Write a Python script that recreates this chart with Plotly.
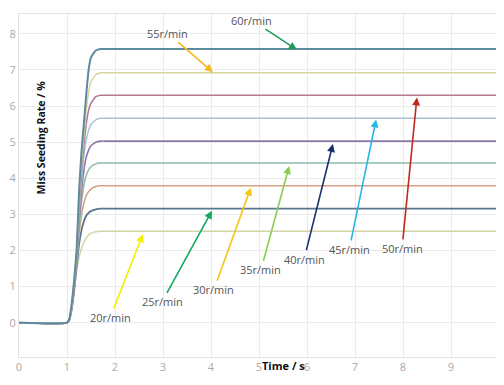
import plotly.graph_objects as go

# ---- data ----
time_s = [0, 1.0, 1.05, 1.1, 1.15, 1.2, 1.25, 1.3, 1.35, 1.4, 1.45, 1.5, 1.6, 1.7, 1.8, 2.0, 10]

rate_20 = [0, 0, 0.08, 0.35, 0.85, 1.45, 1.8, 2.05, 2.22, 2.35, 2.43, 2.48, 2.52, 2.53, 2.53, 2.53, 2.53]
rate_25 = [0, 0, 0.08, 0.4, 0.9, 1.55, 2.15, 2.55, 2.8, 2.96, 3.04, 3.09, 3.14, 3.16, 3.16, 3.16, 3.16]
rate_30 = [0, 0, 0.1, 0.4, 0.95, 1.65, 2.4, 2.95, 3.3, 3.52, 3.63, 3.7, 3.77, 3.79, 3.79, 3.79, 3.79]
rate_35 = [0, 0, 0.1, 0.45, 1.0, 1.7, 2.6, 3.3, 3.78, 4.08, 4.23, 4.32, 4.4, 4.42, 4.42, 4.42, 4.42]
rate_40 = [0, 0, 0.1, 0.45, 1.0, 1.8, 2.8, 3.6, 4.2, 4.58, 4.78, 4.9, 5.0, 5.03, 5.03, 5.03, 5.03]
rate_45 = [0, 0, 0.1, 0.5, 1.05, 1.85, 3.0, 3.9, 4.6, 5.05, 5.33, 5.49, 5.62, 5.66, 5.66, 5.66, 5.66]
rate_50 = [0, 0, 0.1, 0.5, 1.1, 1.9, 3.2, 4.2, 4.9, 5.5, 5.88, 6.08, 6.26, 6.3, 6.3, 6.3, 6.3]
rate_55 = [0, 0, 0.1, 0.5, 1.15, 1.95, 3.4, 4.4, 5.2, 5.9, 6.38, 6.68, 6.87, 6.92, 6.92, 6.92, 6.92]
rate_60 = [0, 0, 0.1, 0.55, 1.2, 2.0, 3.6, 4.7, 5.5, 6.3, 7.0, 7.35, 7.54, 7.58, 7.58, 7.58, 7.58]

series_names = ["20r/min", "25r/min", "30r/min", "35r/min", "40r/min",
                "45r/min", "50r/min", "55r/min", "60r/min"]
series_values = [rate_20, rate_25, rate_30, rate_35, rate_40,
                 rate_45, rate_50, rate_55, rate_60]
line_colors = ["#d4d4a8", "#56768e", "#d4a282", "#8cbcaa", "#8a78aa",
               "#a9c2d2", "#b47a92", "#d6d69a", "#5c8a9e"]
line_widths = [1.5, 1.8, 1.5, 1.5, 1.6, 1.5, 1.6, 1.5, 2.0]

# label text position (x, y) and arrow head (x, y)
label_pos = [(1.90, 0.14), (2.98, 0.58), (4.06, 0.91), (5.04, 1.46), (5.94, 1.76),
             (6.88, 2.03), (7.98, 2.06), (3.10, 8.02), (4.85, 8.38)]
arrow_head = [(2.58, 2.45), (4.02, 3.10), (4.83, 3.74), (5.63, 4.34), (6.54, 4.95),
              (7.44, 5.63), (8.29, 6.24), (4.04, 6.94), (5.79, 7.56)]
arrow_colors = ["#f2f000", "#12a862", "#f5c518", "#8ccf50", "#1b2f6b",
                "#29b5e8", "#c0291e", "#f5b820", "#1e9e5a"]

x_ticks = list(range(0, 11))
y_ticks = list(range(0, 9))

fig = go.Figure()
for name, vals, col, w in zip(series_names, series_values, line_colors, line_widths):
    fig.add_trace(go.Scatter(x=time_s, y=vals, mode="lines", name=name,
                             line=dict(color=col, width=w, shape="spline", smoothing=0.5)))

for name, (tx, ty), (hx, hy), ac in zip(series_names, label_pos, arrow_head, arrow_colors):
    fig.add_annotation(x=hx, y=hy, ax=tx, ay=ty, xref="x", yref="y", axref="x", ayref="y",
                       text=name, showarrow=True, arrowhead=2, arrowsize=1, arrowwidth=1.6,
                       arrowcolor=ac, standoff=0, startstandoff=0,
                       font=dict(family="Open Sans", size=11, color="#555555"))

fig.add_annotation(x=0.029, y=0.64, xref="paper", yref="paper", text="<b>Miss Seeding Rate / %</b>",
                   textangle=-90, showarrow=False, font=dict(family="Open Sans", size=10.5, color="#111111"))
fig.add_annotation(x=0.552, y=-0.052, xref="paper", yref="paper", text="<b>Time / s</b>",
                   showarrow=False, font=dict(family="Open Sans", size=11, color="#111111"))

# page body has an 8px default margin; size the figure to fit the 504x385 window
fig.update_layout(
    width=496, height=377,
    margin=dict(l=11, r=5, t=6, b=28, autoexpand=False),
    paper_bgcolor="white", plot_bgcolor="white",
    showlegend=False,
    font=dict(family="Open Sans"),
)
fig.update_xaxes(range=[0, 10], tickvals=x_ticks, showgrid=True, gridcolor="#ebebeb", gridwidth=1,
                 zeroline=False, showline=True, linecolor="#e2e2e2", mirror=True, automargin=False,
                 tickfont=dict(size=11, color="#aaaaaa"))
fig.update_yaxes(range=[-0.95, 8.55], tickvals=y_ticks, showgrid=True, gridcolor="#ebebeb", gridwidth=1,
                 zeroline=False, showline=True, linecolor="#e2e2e2", mirror=True, automargin=False,
                 tickfont=dict(size=11, color="#aaaaaa"))

fig.write_html("out.html")
